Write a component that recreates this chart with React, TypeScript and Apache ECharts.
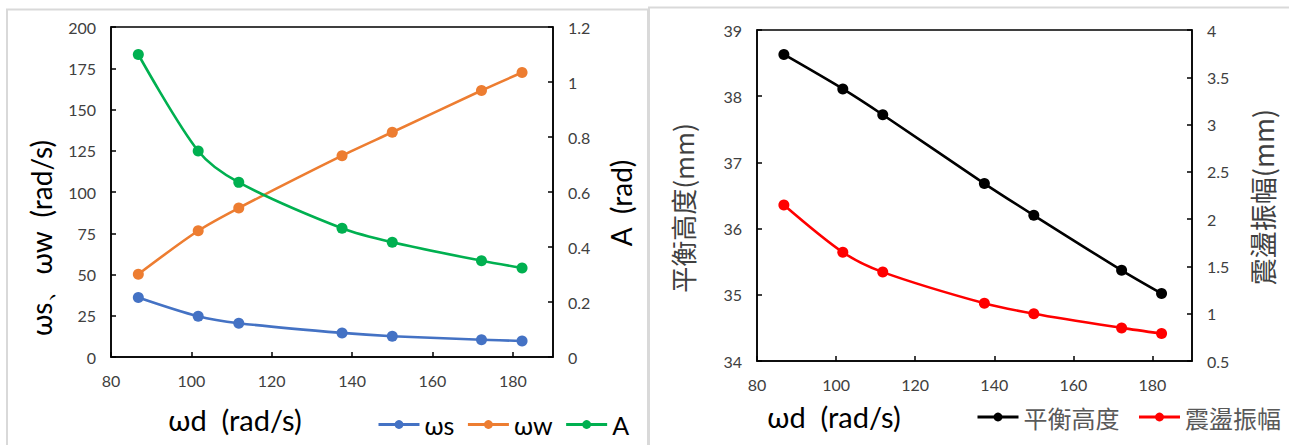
import React, { useEffect, useRef } from "react";
import * as echarts from "echarts";

// ---- data ----
const wd = [86.8, 101.7, 111.8, 137.5, 150.0, 172.2, 182.3];
const ws = [36.1, 24.7, 20.5, 14.6, 12.6, 10.5, 9.7];
const ww = [50.2, 76.5, 90.3, 122.0, 136.2, 161.5, 172.4];
const amp = [1.1, 0.749, 0.635, 0.468, 0.417, 0.35, 0.324];
const height = [38.63, 38.11, 37.72, 36.68, 36.2, 35.37, 35.02];
const shake = [2.15, 1.65, 1.44, 1.11, 1.0, 0.85, 0.79];

const leftNames = ["ωs", "ωw", "A"];
const rightNames = ["平衡高度", "震盪振幅"];

const pairs = (xs: number[], ys: number[]) => xs.map((x, i) => [x, ys[i]]);

const LAT = "Lato, 'Noto Sans', 'DejaVu Sans', sans-serif";
const CJK = "'Noto Sans CJK TC', 'Noto Sans', sans-serif";
const LABEL = "#404040";

function valueAxis(extra: any) {
  return {
    type: "value",
    axisLine: { show: true, lineStyle: { color: "#000", width: 1.5 } },
    axisTick: { show: true, inside: true, length: 5, lineStyle: { color: "#000", width: 1.5 } },
    splitLine: { show: false },
    axisLabel: { color: LABEL, fontSize: 16, fontFamily: LAT, margin: 15 },
    ...extra,
  };
}

function lineSeries(name: string, data: number[][], color: string, xIdx: number, yIdx: number) {
  return {
    name,
    type: "line",
    xAxisIndex: xIdx,
    yAxisIndex: yIdx,
    data,
    smooth: 0.3,
    symbol: "circle",
    symbolSize: 11,
    showSymbol: true,
    lineStyle: { color, width: 2.6 },
    itemStyle: { color },
  };
}

export default function App() {
  const ref = useRef<HTMLDivElement>(null);
  useEffect(() => {
    if (!ref.current) return;
    const chart = echarts.init(ref.current, undefined, { renderer: "svg" });
    const xLabel = { color: LABEL, fontSize: 16, fontFamily: LAT, margin: 15, showMaxLabel: false };
    const option: any = {
      animation: false,
      backgroundColor: "#fff",
      grid: [
        { left: 111, top: 27, width: 442, height: 330, show: true, borderColor: "#000", borderWidth: 1.5, backgroundColor: "transparent" },
        { left: 757, top: 30, width: 435, height: 331, show: true, borderColor: "#000", borderWidth: 1.5, backgroundColor: "transparent" },
      ],
      xAxis: [
        valueAxis({ gridIndex: 0, min: 80, max: 190, interval: 20, axisLabel: xLabel }),
        valueAxis({ gridIndex: 1, min: 80, max: 190, interval: 20, axisLabel: xLabel }),
      ],
      yAxis: [
        valueAxis({ gridIndex: 0, position: "left", min: 0, max: 200, interval: 25 }),
        valueAxis({ gridIndex: 0, position: "right", min: 0, max: 1.2, interval: 0.2 }),
        valueAxis({ gridIndex: 1, position: "left", min: 34, max: 39, interval: 1 }),
        valueAxis({ gridIndex: 1, position: "right", min: 0.5, max: 4, interval: 0.5 }),
      ],
      legend: [
        {
          data: leftNames,
          left: 372,
          top: 407,
          itemWidth: 41,
          itemHeight: 11,
          itemGap: 12,
          lineStyle: { width: 3 },
          textStyle: { color: "#000", fontSize: 25, fontFamily: LAT },
        },
        {
          data: rightNames,
          left: 971,
          top: 400,
          itemWidth: 41,
          itemHeight: 11,
          itemGap: 18,
          lineStyle: { width: 3 },
          textStyle: { color: "#595959", fontSize: 24, fontFamily: CJK },
        },
      ],
      series: [
        lineSeries("ωs", pairs(wd, ws), "#4472C4", 0, 0),
        lineSeries("ωw", pairs(wd, ww), "#ED7D31", 0, 0),
        lineSeries("A", pairs(wd, amp), "#00B050", 0, 1),
        lineSeries("平衡高度", pairs(wd, height), "#000000", 1, 2),
        lineSeries("震盪振幅", pairs(wd, shake), "#FF0000", 1, 3),
      ],
      graphic: [
        { type: "rect", shape: { x: 7, y: 9.5, width: 641, height: 460 }, style: { fill: "none", stroke: "#d9d9d9", lineWidth: 2 }, silent: true },
        { type: "rect", shape: { x: 649, y: 7.5, width: 660, height: 460 }, style: { fill: "none", stroke: "#d9d9d9", lineWidth: 2 }, silent: true },
        { type: "text", x: 235, y: 419, style: { text: "ωd  (rad/s)", font: `29px ${LAT}`, fill: "#000", textAlign: "center", textVerticalAlign: "middle" } },
        { type: "text", x: 834, y: 416, style: { text: "ωd  (rad/s)", font: `29px ${LAT}`, fill: "#000", textAlign: "center", textVerticalAlign: "middle" } },
        { type: "text", x: 41, y: 238, rotation: Math.PI / 2, style: { text: "ωs、ωw  (rad/s)", font: `28px ${LAT}`, fill: "#000", textAlign: "center", textVerticalAlign: "middle" } },
        { type: "text", x: 621, y: 203, rotation: Math.PI / 2, style: { text: "A  (rad)", font: `28px ${LAT}`, fill: "#000", textAlign: "center", textVerticalAlign: "middle" } },
        { type: "text", x: 682, y: 208, rotation: Math.PI / 2, style: { text: "平衡高度(mm)", font: `26px ${CJK}`, fill: "#404040", textAlign: "center", textVerticalAlign: "middle" } },
        { type: "text", x: 1262, y: 197, rotation: Math.PI / 2, style: { text: "震盪振幅(mm)", font: `27px ${CJK}`, fill: "#404040", textAlign: "center", textVerticalAlign: "middle" } },
      ],
    };
    chart.setOption(option);
    return () => chart.dispose();
  }, []);
  return (
    <div
      ref={ref}
      style={{ position: "absolute", left: 0, top: 0, width: 1289, height: 445, background: "#fff" }}
    />
  );
}
